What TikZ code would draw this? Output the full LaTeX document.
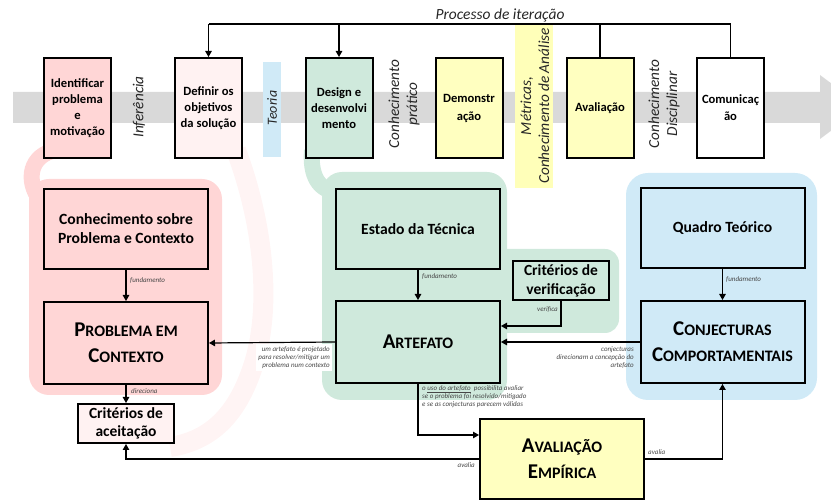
\documentclass[tikz,border=0pt]{standalone}
\usepackage{fontspec}
\setmainfont{Carlito}
\usetikzlibrary{arrows.meta}
\definecolor{pinkA}{RGB}{255,214,214}
\definecolor{pinkL}{RGB}{255,242,242}
\definecolor{pinkF}{RGB}{255,244,244}
\definecolor{greenA}{RGB}{207,233,220}
\definecolor{blueA}{RGB}{208,234,247}
\definecolor{yellowA}{RGB}{255,255,192}
\definecolor{yellowB}{RGB}{255,255,185}
\definecolor{grayA}{RGB}{217,217,217}
\definecolor{lblgray}{RGB}{70,70,70}
\newcommand\scw[2]{{\fontsize{21}{26}\selectfont #1}{\fontsize{16}{26}\selectfont #2}}
\begin{document}
\begin{tikzpicture}[x=1pt,y=-1pt,
  topbox/.style={draw, line width=2pt, minimum width=67pt, minimum height=100pt, align=center,
     font=\bfseries\fontsize{12.6}{15.8}\selectfont, inner sep=1pt},
  lowbox/.style={draw, line width=2pt, minimum width=164pt, minimum height=80pt, align=center, inner sep=1pt},
  bigbox/.style={lowbox, minimum height=82pt, font=\bfseries\fontsize{21}{26}\selectfont},
  midbox/.style={draw, line width=2pt, minimum width=96pt, minimum height=39pt, align=center,
     font=\bfseries\fontsize{15.5}{18.5}\selectfont, inner sep=0pt},
  rottext/.style={rotate=90, align=center, text=black!85, font=\itshape\fontsize{15.3}{18}\selectfont},
  conn/.style={line width=1.2pt},
  arr/.style={line width=1.2pt, -{Triangle[length=6pt,width=6.5pt]}},
  lbl/.style={text=lblgray, font=\itshape\fontsize{7}{8.2}\selectfont, inner sep=1pt},
  hook/.style={line width=16pt, line cap=butt}
]
\useasboundingbox (0,0) rectangle (831,502);
\clip (0,0) rectangle (831,502);

% big gray arrow
\fill[grayA] (13,92) -- (820,92) -- (820,75) -- (863,107) -- (820,139) -- (820,123) -- (13,123) -- cycle;

% bars
\fill[blueA] (263,62) rectangle (281,157);
\fill[yellowB] (515,24) rectangle (553,188);

% faint crescent
\draw[pinkF, line width=20pt] (236,150) .. controls (262,220) and (272,300) .. (255,360)
   .. controls (240,410) and (215,440) .. (170,447);

% hooks
\draw[pinkA, hook] (56,150) .. controls (30,155) and (25,180) .. (40,200);
\draw[greenA, hook] (312,150) .. controls (310,175) and (318,192) .. (340,192);

% regions
\fill[pinkA, rounded corners=20pt] (29,179) rectangle (222,395);
\fill[greenA, rounded corners=20pt] (322,172) rectangle (507,400);
\fill[greenA, rounded corners=14pt] (480,249) rectangle (619,333);
\fill[blueA, rounded corners=22pt] (626,173) rectangle (817,400);

% top boxes
\node[topbox, fill=pinkA] (idn) at (77.5,108) {Identificar\\problema\\e\\motivação};
\node[topbox, fill=pinkL] (def) at (208.5,108) {Definir os\\objetivos\\da solução};
\node[topbox, fill=greenA] (des) at (339,108) {Design e\\desenvolvi\\mento};
\node[topbox, fill=yellowA, font=\bfseries\fontsize{12.6}{18}\selectfont] (dem) at (469,108) {Demonstr\\ação};
\node[topbox, fill=yellowA] (ava) at (600,108) {Avaliação};
\node[topbox, fill=white, font=\bfseries\fontsize{12.6}{17}\selectfont] (com) at (730.5,108) {Comunicaç\\ão};

% rotated texts
\node[rottext] (tinf) at (139,107) {Inferência};
\node[rottext, font=\itshape\fontsize{14}{15}\selectfont] (tteo) at (272,108) {Teoria};
\node[rottext] (tcp) at (404,104) {Conhecimento\\prático};
\node[rottext] (tmet) at (535,106) {Métricas,\\Conhecimento de Análise};
\node[rottext] (tcd) at (664,104) {Conhecimento\\Disciplinar};

% iteration process
\coordinate (it) at (0,24);
\draw[conn] (com.north) -- (com.north |- it) -- (def.north |- it);
\draw[conn] (ava.north) -- (ava.north |- it);
\draw[arr] (def.north |- it) -- (def.north);
\draw[arr] (des.north |- it) -- (des.north);
\node[font=\itshape\fontsize{15.5}{17}\selectfont, text=black!85, anchor=south, inner sep=1pt] (tit) at (500,23) {Processo de iteração};

% lower boxes
\node[lowbox, fill=pinkA, font=\bfseries\fontsize{15.6}{19}\selectfont] (kpc) at (126,229) {Conhecimento sobre\\Problema e Contexto};
\node[bigbox, fill=pinkA] (pec) at (126,343) {\scw{P}{ROBLEMA EM}\\\scw{C}{ONTEXTO}};
\node[midbox, fill=pinkL] (cac) at (126,423.5) {Critérios de\\aceitação};
\node[lowbox, fill=greenA, font=\bfseries\fontsize{15.6}{18}\selectfont] (est) at (418,229) {Estado da Técnica};
\node[bigbox, fill=greenA] (art) at (418,342) {\scw{A}{RTEFATO}};
\node[midbox, fill=greenA] (cver) at (561,281) {Critérios de\\verificação};
\node[lowbox, fill=blueA, font=\bfseries\fontsize{15.6}{18}\selectfont] (qt) at (722.5,228) {Quadro Teórico};
\node[bigbox, fill=blueA] (cjc) at (722.5,342) {\scw{C}{ONJECTURAS}\\\scw{C}{OMPORTAMENTAIS}};
\node[bigbox, fill=yellowA, minimum height=80pt] (ave) at (562,459) {\scw{A}{VALIAÇÃO}\\\scw{E}{MPÍRICA}};

% connectors
\draw[arr] (kpc) -- (pec);
\draw[arr] (pec.south) -- (cac.north);
\draw[arr] (est) -- (art);
\draw[arr] (qt) -- (cjc);
\coordinate (vy) at (0,326);
\draw[arr] (cver.south) |- (art.east |- vy);
\draw[arr] (art.west) -- (pec.east);
\draw[arr] (cjc.west) -- (art.east);
\coordinate (ay) at (0,435);
\draw[arr] (art.south) |- (ave.west |- ay);
\draw[arr] (ave.west) -| (cac.south);
\draw[arr] (ave.east) -| (cjc.south);

% labels
\node[lbl, anchor=west] (l1) at (129,280) {fundamento};
\node[lbl, anchor=west] (l2) at (130,391) {direciona};
\node[lbl, anchor=west] (l3) at (421,276) {fundamento};
\node[lbl, anchor=west] (l4) at (725,279) {fundamento};
\node[lbl, anchor=east] (l5) at (559,309) {verifica};
\node[lbl, anchor=north east, align=right, fill=white, inner sep=2pt] (l6) at (332,344) {um artefato é projetado\\para resolver/mitigar um\\problema num contexto};
\node[lbl, anchor=north east, align=right] (l7) at (635,345) {conjecturas\\direcionam a concepção do\\artefato};
\node[lbl, anchor=north west, align=left] (l8) at (421,384) {o \underline{uso do artefato}\ \ possibilita avaliar\\se o problema foi resolvido/mitigado\\e se as conjecturas parecem válidas};
\node[lbl, anchor=east] (l9) at (476,465) {avalia};
\node[lbl, anchor=west] (l10) at (647,452) {avalia};
\end{tikzpicture}
\end{document}
